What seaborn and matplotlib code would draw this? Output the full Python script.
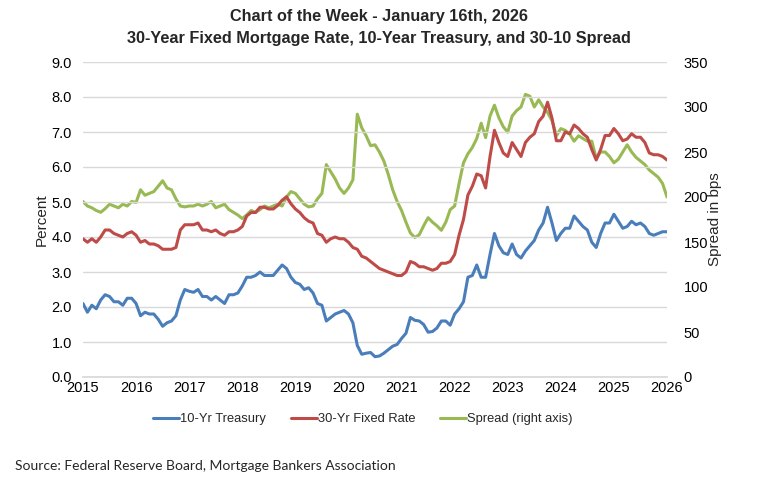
import numpy as np
import pandas as pd
import matplotlib
matplotlib.use("Agg")
import matplotlib.pyplot as plt
import seaborn as sns

# Monthly readings, Jan 2015 .. Jan 2026
treasury_10yr = [
    2.1, 1.85, 2.05, 1.95, 2.2, 2.35, 2.3, 2.15, 2.15, 2.05, 2.25, 2.25,
    2.1, 1.75, 1.85, 1.8, 1.8, 1.65, 1.45, 1.55, 1.6, 1.75, 2.2, 2.5,
    2.45, 2.42, 2.5, 2.3, 2.3, 2.2, 2.3, 2.2, 2.1, 2.35, 2.35, 2.4,
    2.6, 2.85, 2.85, 2.9, 3.0, 2.9, 2.9, 2.9, 3.05, 3.2, 3.1, 2.85,
    2.7, 2.65, 2.5, 2.55, 2.4, 2.1, 2.05, 1.6, 1.7, 1.8, 1.85, 1.9,
    1.8, 1.55, 0.9, 0.65, 0.68, 0.7, 0.58, 0.6, 0.68, 0.78, 0.88, 0.93,
    1.1, 1.25, 1.7, 1.62, 1.6, 1.5, 1.28, 1.3, 1.4, 1.6, 1.6, 1.48,
    1.8, 1.95, 2.15, 2.85, 2.9, 3.2, 2.85, 2.85, 3.5, 4.1, 3.75, 3.55,
    3.5, 3.8, 3.5, 3.4, 3.6, 3.75, 3.9, 4.2, 4.4, 4.85, 4.4, 3.9,
    4.1, 4.25, 4.25, 4.6, 4.45, 4.3, 4.2, 3.85, 3.7, 4.1, 4.4, 4.4,
    4.65, 4.45, 4.25, 4.3, 4.45, 4.35, 4.4, 4.3, 4.1, 4.05, 4.1, 4.15,
    4.15,
]
mortgage_30yr = [
    3.95, 3.85, 3.95, 3.85, 4.0, 4.2, 4.2, 4.1, 4.05, 4.0, 4.1, 4.15,
    4.05, 3.85, 3.9, 3.8, 3.8, 3.75, 3.65, 3.65, 3.65, 3.7, 4.2, 4.35,
    4.35, 4.35, 4.4, 4.2, 4.2, 4.15, 4.2, 4.1, 4.05, 4.15, 4.15, 4.2,
    4.3, 4.6, 4.7, 4.7, 4.85, 4.85, 4.8, 4.8, 4.9, 5.05, 5.15, 4.95,
    4.8, 4.7, 4.55, 4.45, 4.4, 4.1, 4.05, 3.85, 3.95, 4.0, 3.95, 3.95,
    3.85, 3.7, 3.65, 3.45, 3.4, 3.3, 3.2, 3.1, 3.05, 3.0, 2.95, 2.9,
    2.9, 3.0, 3.3, 3.25, 3.15, 3.15, 3.1, 3.05, 3.1, 3.25, 3.25, 3.3,
    3.5, 4.05, 4.5, 5.2, 5.45, 5.8, 5.75, 5.4, 6.3, 7.05, 6.7, 6.4,
    6.3, 6.7, 6.5, 6.3, 6.7, 6.85, 6.95, 7.3, 7.45, 7.85, 7.4, 6.75,
    6.75, 7.0, 6.95, 7.2, 7.1, 6.95, 6.85, 6.5, 6.2, 6.5, 6.9, 6.9,
    7.1, 6.95, 6.75, 6.8, 6.95, 6.85, 6.85, 6.7, 6.4, 6.35, 6.35, 6.3,
    6.2,
]
spread_bps = [
    195, 190, 188, 185, 183, 187, 192, 190, 188, 192, 190, 195,
    194, 208, 202, 204, 206, 212, 218, 210, 208, 198, 190, 189,
    190, 190, 192, 190, 192, 195, 188, 190, 192, 186, 183, 180,
    176, 180, 185, 183, 186, 190, 188, 190, 192, 190, 200, 206,
    204, 198, 192, 189, 190, 198, 204, 236, 228, 220, 210, 204,
    210, 219, 292, 277, 268, 257, 258, 250, 240, 225, 208, 195,
    185, 172, 160, 155, 158, 168, 177, 172, 168, 163, 172, 186,
    190, 215, 238, 248, 255, 265, 282, 266, 290, 302, 288, 278,
    272, 290, 296, 300, 314, 312, 300, 308, 300, 294, 285, 268,
    276, 274, 270, 262, 268, 265, 262, 262, 243, 250, 250, 245,
    238, 242, 250, 258, 250, 244, 240, 236, 230, 226, 222, 215,
    200,
]
year_ticks = list(range(2015, 2027))
left_ticks = [0, 1, 2, 3, 4, 5, 6, 7, 8, 9]
right_ticks = [0, 50, 100, 150, 200, 250, 300, 350]

x = 2015 + np.arange(len(treasury_10yr)) / 12.0
df = pd.DataFrame({"x": x, "t10": treasury_10yr, "m30": mortgage_30yr, "spread": spread_bps})

sns.set_theme(style="white")
plt.rcParams['font.family'] = ['Liberation Sans', 'DejaVu Sans']

BLUE = "#4a7ebb"
RED = "#be4b48"
GREEN = "#98b954"
GRID = "#d9d9d9"

fig = plt.figure(figsize=(7.58, 4.82), dpi=100)
ax = fig.add_axes([83 / 758, 1 - 377 / 482, (667 - 83) / 758, (377 - 62) / 482])
ax2 = ax.twinx()

lw = 2.2
sns.lineplot(data=df, x="x", y="t10", ax=ax, color=BLUE, lw=lw, label="10-Yr Treasury", legend=False)
sns.lineplot(data=df, x="x", y="m30", ax=ax, color=RED, lw=lw, label="30-Yr Fixed Rate", legend=False)
sns.lineplot(data=df, x="x", y="spread", ax=ax2, color=GREEN, lw=lw, label="Spread (right axis)", legend=False)

ax.set_zorder(ax2.get_zorder() + 1)
ax.patch.set_visible(False)

ax.set_xlim(2015, 2026)
ax.set_ylim(0, 9)
ax2.set_ylim(0, 350)
ax.set_xticks(year_ticks)
ax.set_xticklabels([str(y) for y in year_ticks])
ax.set_yticks(left_ticks)
ax.set_yticklabels([f"{v:.1f}" for v in left_ticks])
ax2.set_yticks(right_ticks)
ax2.set_yticklabels([str(v) for v in right_ticks])

ax2.grid(False)
ax.yaxis.grid(True, color=GRID, lw=1)
ax.xaxis.grid(False)
for a in (ax, ax2):
    for s in ("left", "right", "top"):
        a.spines[s].set_visible(False)
    a.spines["bottom"].set_color(GRID)
ax2.spines["bottom"].set_visible(False)

ax.tick_params(axis="x", direction="in", length=4, color=GRID, labelsize=10.5, pad=3, labelcolor="#000000")
ax.tick_params(axis="y", length=0, labelsize=10.5, pad=8, labelcolor="#000000")
ax2.tick_params(axis="y", length=0, labelsize=10.5, pad=12, labelcolor="#000000")

ax.set_xlabel("")
ax.set_ylabel("Percent", fontsize=11, labelpad=2)
ax2.set_ylabel("Spread in bps", fontsize=11, rotation=90, labelpad=0)

title_family = ['Liberation Sans Narrow', 'Liberation Sans', 'DejaVu Sans']
fig.text(0.5, 1 - 17 / 482, "Chart of the Week - January 16th, 2026", ha="center", va="center",
         fontsize=11.7, fontweight="bold", family=title_family)
fig.text(0.5, 1 - 38 / 482, "30-Year Fixed Mortgage Rate, 10-Year Treasury, and 30-10 Spread", ha="center", va="center",
         fontsize=11.7, fontweight="bold", family=title_family)

h1, l1 = ax.get_legend_handles_labels()
h2, l2 = ax2.get_legend_handles_labels()
fig.legend(h1 + h2, l1 + l2, loc="center", bbox_to_anchor=(363 / 758, 1 - 419 / 482), ncol=3,
           frameon=False, fontsize=9.3, handlelength=2.0, handletextpad=0.1, columnspacing=1.9)

fig.text(15 / 758, 1 - 466 / 482, "Source: Federal Reserve Board, Mortgage Bankers Association",
         ha="left", va="center", fontsize=10, family=['Lato', 'DejaVu Sans'])

fig.savefig("out.png", dpi=100)
